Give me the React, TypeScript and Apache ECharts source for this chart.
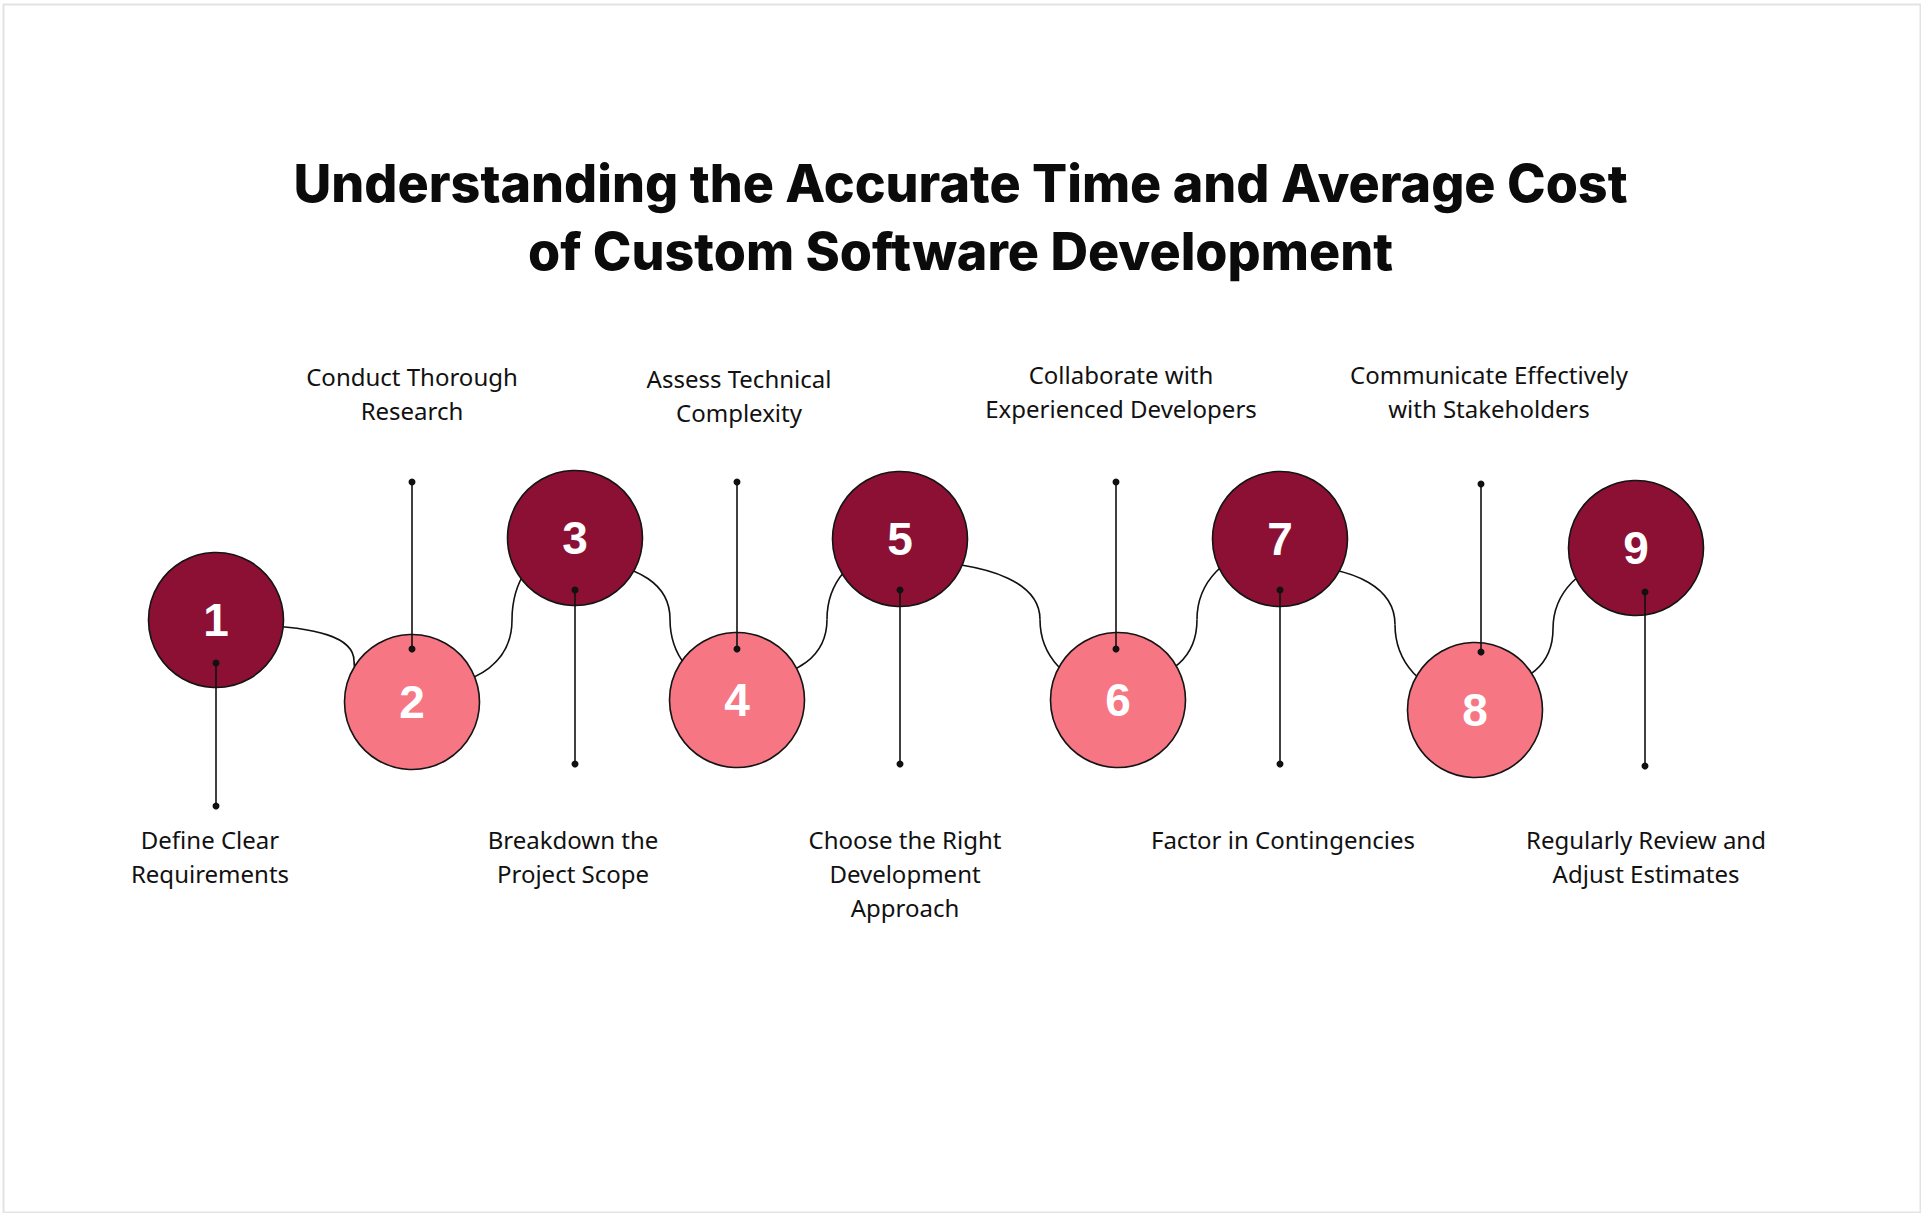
import React, { useEffect, useRef } from "react";
import * as echarts from "echarts";

const W = 1921;
const H = 1213;

const titleText = "Understanding the Accurate Time and Average Cost\nof Custom Software Development";
const steps = ["1", "2", "3", "4", "5", "6", "7", "8", "9"];
const stepLabels = [
  "Define Clear\nRequirements",
  "Conduct Thorough\nResearch",
  "Breakdown the\nProject Scope",
  "Assess Technical\nComplexity",
  "Choose the Right\nDevelopment\nApproach",
  "Collaborate with\nExperienced Developers",
  "Factor in Contingencies",
  "Communicate Effectively\nwith Stakeholders",
  "Regularly Review and\nAdjust Estimates",
];
const circleX = [216, 412, 575, 737, 900, 1118, 1280, 1475, 1636];
const circleY = [620, 702, 538, 700, 539, 700, 539, 710, 548];
const stemX = [216, 412, 575, 737, 900, 1116, 1280, 1481, 1645];
const stemTop = [663, 482, 590, 482, 590, 482, 590, 484, 592];
const stemBottom = [806, 649, 764, 649, 764, 649, 764, 652, 766];
const labelX = [210, 412, 573, 739, 905, 1121, 1283, 1489, 1646];
const labelY = [841, 378, 841, 380, 841, 376, 841, 376, 841];
// connector between step i and i+1: x of the vertical bend, and vertical offset of the exit from circle i
const bendX = [354, 512, 670, 827, 1040, 1197, 1395, 1553];
const exitOffset = [4, 14, 24, 20, 22, 18, 26, 22];

const DARK = "#8B1034";
const PINK = "#F67684";
const BODY_FONT = "Noto Sans";

export default function App() {
  const ref = useRef<HTMLDivElement>(null);
  useEffect(() => {
    if (!ref.current) return;
    const chart = echarts.init(ref.current, null, { renderer: "svg" });
    const connectorData = bendX.map((bx, i) => [bx, (circleY[i] + circleY[i + 1]) / 2, i]);
    const option: any = {
      animation: false,
      backgroundColor: "#ffffff",
      title: {
        text: titleText,
        left: "center",
        top: 144,
        textStyle: {
          fontFamily: "Inter",
          fontSize: 52,
          fontWeight: 800,
          lineHeight: 68,
          color: "#0b0b0b",
        },
      },
      grid: { left: 0, right: 0, top: 0, bottom: 0 },
      xAxis: { type: "value", min: 0, max: W, show: false },
      yAxis: { type: "value", min: 0, max: H, inverse: true, show: false },
      graphic: [
        {
          type: "rect",
          left: 1,
          top: 2,
          shape: { width: 1917, height: 1208 },
          style: { fill: "none", stroke: "#e3e3e3", lineWidth: 2 },
          silent: true,
        },
      ],
      series: [
        {
          type: "custom",
          name: "connectors",
          z: 1,
          silent: true,
          data: connectorData,
          renderItem: (params: any, api: any) => {
            const i = api.value(2);
            const s = circleY[i + 1] > circleY[i] ? 1 : -1;
            const off = exitOffset[i];
            const a = api.coord([circleX[i], circleY[i] + s * off]);
            const b = api.coord([circleX[i + 1], circleY[i + 1] - s * off * 0.5]);
            const m = api.coord([api.value(0), api.value(1)]);
            const dy1 = Math.abs(m[1] - a[1]);
            const dy2 = Math.abs(b[1] - m[1]);
            const c1x = Math.max(a[0] + (m[0] - a[0]) * 0.72, m[0] - 0.67 * dy1);
            const c2x = Math.min(b[0] + (m[0] - b[0]) * 0.72, m[0] + 0.67 * dy2);
            const style = { stroke: "#111111", lineWidth: 1.6, fill: "none" };
            return {
              type: "group",
              children: [
                {
                  type: "bezierCurve",
                  shape: {
                    x1: a[0], y1: a[1],
                    cpx1: c1x, cpy1: a[1],
                    cpx2: m[0], cpy2: a[1] + (m[1] - a[1]) * 0.45,
                    x2: m[0], y2: m[1],
                  },
                  style,
                },
                {
                  type: "bezierCurve",
                  shape: {
                    x1: m[0], y1: m[1],
                    cpx1: m[0], cpy1: m[1] + (b[1] - m[1]) * 0.45,
                    cpx2: c2x, cpy2: b[1],
                    x2: b[0], y2: b[1],
                  },
                  style,
                },
              ],
            };
          },
        },
        {
          type: "scatter",
          name: "steps",
          z: 2,
          symbol: "circle",
          symbolSize: 135,
          data: circleX.map((x, i) => [x, circleY[i]]),
          itemStyle: {
            color: (p: any) => (p.dataIndex % 2 === 0 ? DARK : PINK),
            borderColor: "#141414",
            borderWidth: 1.6,
            opacity: 1,
          },
          label: {
            show: true,
            position: "inside",
            formatter: (p: any) => steps[p.dataIndex],
            color: "#ffffff",
            fontFamily: "Liberation Sans",
            fontWeight: "bold",
            fontSize: 46,
          },
          emphasis: { disabled: true },
        },
        {
          type: "custom",
          name: "stems",
          z: 3,
          silent: true,
          data: stemX.map((x, i) => [x, stemTop[i], stemBottom[i]]),
          renderItem: (params: any, api: any) => {
            const p1 = api.coord([api.value(0), api.value(1)]);
            const p2 = api.coord([api.value(0), api.value(2)]);
            return {
              type: "group",
              children: [
                {
                  type: "line",
                  shape: { x1: p1[0], y1: p1[1], x2: p2[0], y2: p2[1] },
                  style: { stroke: "#111111", lineWidth: 1.6 },
                },
                { type: "circle", shape: { cx: p1[0], cy: p1[1], r: 3.5 }, style: { fill: "#111111" } },
                { type: "circle", shape: { cx: p2[0], cy: p2[1], r: 3.5 }, style: { fill: "#111111" } },
              ],
            };
          },
        },
        {
          type: "custom",
          name: "labels",
          z: 3,
          silent: true,
          data: labelX.map((x, i) => [x, labelY[i], i]),
          renderItem: (params: any, api: any) => {
            const i = api.value(2);
            const p = api.coord([api.value(0), api.value(1)]);
            return {
              type: "text",
              x: p[0],
              y: p[1] - 19,
              style: {
                text: stepLabels[i],
                fill: "#111111",
                fontFamily: BODY_FONT,
                fontSize: 24,
                lineHeight: 34,
                align: "center",
                verticalAlign: "top",
              },
            };
          },
        },
      ],
    };
    chart.setOption(option);
    return () => chart.dispose();
  }, []);
  return (
    <div
      ref={ref}
      style={{ position: "fixed", left: 0, top: 0, width: W, height: H, background: "#fff" }}
    />
  );
}
